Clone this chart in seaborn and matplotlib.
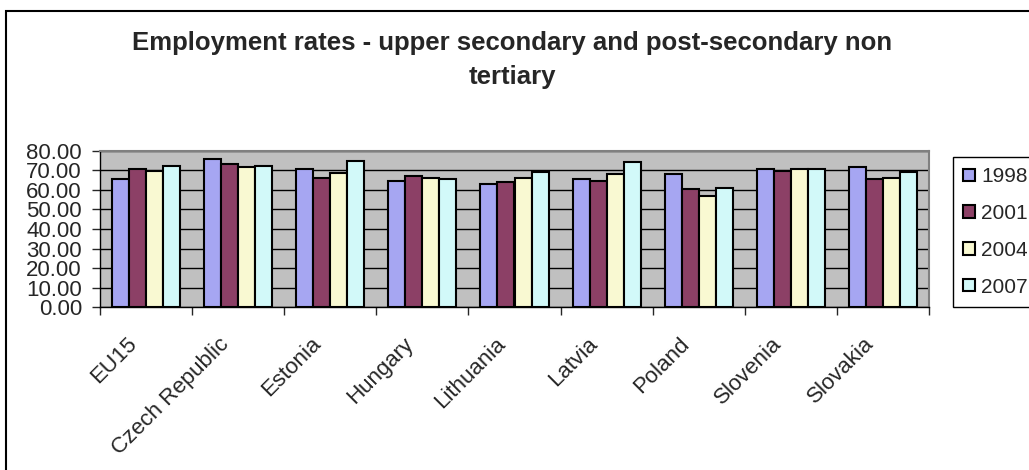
import matplotlib
matplotlib.use("Agg")
import matplotlib.pyplot as plt
import matplotlib.transforms as mtransforms
import pandas as pd
import seaborn as sns
import numpy as np
from matplotlib.patches import Rectangle
from matplotlib.ticker import FormatStrFormatter

countries = ["EU15", "Czech Republic", "Estonia", "Hungary", "Lithuania",
             "Latvia", "Poland", "Slovenia", "Slovakia"]
years = ["1998", "2001", "2004", "2007"]

rate_1998 = [65.4, 75.8, 70.8, 64.5, 62.8, 65.4, 68.2, 70.6, 71.5]
rate_2001 = [70.6, 73.4, 66.3, 67.2, 63.8, 64.5, 60.2, 69.8, 65.4]
rate_2004 = [69.8, 71.7, 68.4, 66.1, 66.3, 68.2, 56.8, 70.6, 66.3]
rate_2007 = [72.4, 72.4, 74.9, 65.4, 69.1, 74.0, 60.8, 70.6, 69.0]

colors = ["#9999FF", "#993366", "#FFFFCC", "#CCFFFF"]

df = pd.DataFrame({
    "country": countries * 4,
    "year": sum([[y] * len(countries) for y in years], []),
    "rate": rate_1998 + rate_2001 + rate_2004 + rate_2007,
})

sns.set_style("ticks")
plt.rcParams["font.family"] = ["Liberation Sans", "DejaVu Sans"]

fig = plt.figure(figsize=(10.29, 4.70), dpi=100)
W, H = 1029, 470
ax = fig.add_axes([100 / W, 1 - 307.3 / H, 829 / W, (307.3 - 150.7) / H])

sns.barplot(data=df, x="country", y="rate", hue="year", order=countries,
            hue_order=years, palette=colors, width=0.74, edgecolor="black",
            linewidth=1.5, ax=ax, legend=True, zorder=3)

ax.set_facecolor("#C0C0C0")
ax.set_ylim(0, 80)
ax.set_xlim(-0.5, len(countries) - 0.5)
ax.set_yticks(np.arange(0, 81, 10))
ax.yaxis.set_major_formatter(FormatStrFormatter("%.2f"))
ax.grid(axis="y", color="black", linewidth=1, zorder=0)
ax.set_axisbelow(True)
ax.set_xlabel("")
ax.set_ylabel("")

for side in ["top", "right"]:
    ax.spines[side].set_color("#808080")
    ax.spines[side].set_linewidth(1.5)
for side in ["left", "bottom"]:
    ax.spines[side].set_color("black")
    ax.spines[side].set_linewidth(1)

ax.tick_params(axis="y", labelsize=16, length=6, width=1, pad=7)
ax.set_xticks(np.arange(len(countries)))
ax.set_xticklabels(countries, rotation=45, ha="right", va="center",
                   rotation_mode="anchor", fontsize=16)
ax.tick_params(axis="x", which="major", length=0, pad=22)
shift = mtransforms.ScaledTranslation(-0.12, -0.03, fig.dpi_scale_trans)
for lbl in ax.get_xticklabels():
    lbl.set_transform(lbl.get_transform() + shift)
ax.set_xticks(np.arange(len(countries) + 1) - 0.5, minor=True)
ax.tick_params(axis="x", which="minor", length=6, width=1)

handles, labels = ax.get_legend_handles_labels()
ax.legend(handles, labels, loc="upper left",
          bbox_to_anchor=(953 / W, 1 - 157 / H), bbox_transform=fig.transFigure,
          frameon=True, fancybox=False, edgecolor="black", framealpha=1,
          fontsize=15, handlelength=0.55, handleheight=0.55, handletextpad=0.3,
          labelspacing=0.85, borderpad=0.5, borderaxespad=0)
ax.get_legend().get_frame().set_linewidth(1)

fig.text(512 / W, 1 - 60 / H,
         "Employment rates - upper secondary and post-secondary non\ntertiary",
         ha="center", va="center", fontsize=18.5, fontweight="bold", linespacing=1.55)

fig.patches.append(Rectangle((6 / W, -0.1), 1.2, 1.1 - 11 / H, fill=False,
                             edgecolor="black", linewidth=1.5,
                             transform=fig.transFigure, figure=fig))

fig.savefig("out.png", dpi=100)
